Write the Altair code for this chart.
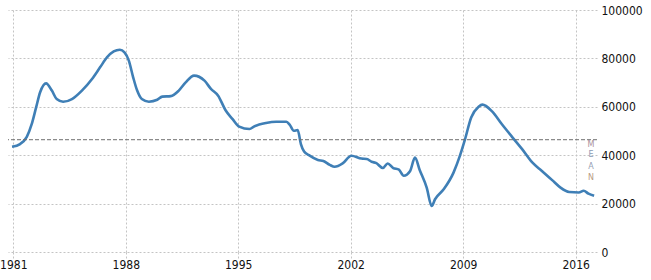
import altair as alt
import pandas as pd

years = [1980.92, 1981.42, 1981.84, 1982.15, 1982.42, 1982.67, 1983.04, 1983.4, 1983.7, 1984.1,
         1984.65, 1985.27, 1985.9, 1986.4, 1986.84, 1987.25, 1987.63, 1987.92, 1988.19, 1988.46,
         1988.71, 1989.0, 1989.44, 1989.96, 1990.27, 1990.8, 1991.3, 1991.73, 1992.25, 1992.9,
         1993.3, 1993.75, 1994.2, 1994.65, 1995.06, 1995.7, 1996.0, 1996.73, 1997.36, 1998.0,
         1998.2, 1998.46, 1998.7, 1998.9, 1999.1, 1999.4, 1999.96, 2000.3, 2000.7, 2001.0,
         2001.5, 2002.04, 2002.67, 2003.0, 2003.3, 2003.6, 2004.0, 2004.3, 2004.65, 2005.0,
         2005.3, 2005.7, 2006.0, 2006.3, 2006.73, 2007.04, 2007.25, 2007.8, 2008.4, 2008.8,
         2009.1, 2009.5, 2009.96, 2010.2, 2010.8, 2011.4, 2012.04, 2012.67, 2013.3, 2013.9,
         2014.54, 2015.06, 2015.6, 2016.2, 2016.5, 2016.8, 2017.15]
values = [43500, 44600, 47600, 52900, 59750, 66000, 69700, 66700, 63200, 62100,
          63200, 66700, 71500, 76300, 80500, 82900, 83600, 82500, 79100, 72200,
          66700, 63200, 62100, 62900, 64200, 64400, 66700, 70100, 72900, 70800,
          67400, 64600, 58700, 54900, 51800, 50800, 51900, 53300, 53800, 53800,
          52600, 50100, 50400, 44600, 41500, 40000, 38000, 37600, 36000, 35200,
          36600, 39800, 38600, 38400, 37300, 36700, 34700, 36600, 34700, 34000,
          31500, 33500, 39000, 33800, 26600, 19000, 21800, 26000, 32800, 39800,
          46200, 55600, 60000, 60900, 58100, 52900, 47600, 42500, 37000, 33500,
          29700, 26600, 24800, 24600, 25300, 24100, 23200]
tick_years = [1981, 1988, 1995, 2002, 2009, 2016]
y_ticks = [0, 20000, 40000, 60000, 80000, 100000]
mean_value = 46400
mean_letters = ["M", "E", "A", "N"]
mean_letter_values = [44200, 39900, 35000, 30600]
mean_letter_colors = ["#a8909c", "#8c9cb4", "#96a0b4", "#b89c84"]

FONT = "Liberation Sans Narrow, DejaVu Sans Condensed, Liberation Sans"
X_DOMAIN = [1980.67, 2017.33]
Y_DOMAIN = [0, 100000]

df = pd.DataFrame({"year": years, "value": values})

xs = alt.Scale(domain=X_DOMAIN, nice=False, zero=False)
ys = alt.Scale(domain=Y_DOMAIN, nice=False)

base = alt.Chart(df)

line = base.mark_line(color="#3f7fb6", strokeWidth=2.6, interpolate="monotone").encode(
    x=alt.X("year:Q", scale=xs, title=None,
            axis=alt.Axis(values=tick_years, format="d", grid=True, gridColor="#c4c4c4",
                          gridDash=[2, 2], gridWidth=1, domain=False, ticks=True, tickSize=6,
                          tickColor="#c4c4c4", tickDash=[2, 2], labelFont=FONT, labelFontSize=12,
                          labelColor="#111111", labelPadding=1, labelFlush=False)),
    y=alt.Y("value:Q", scale=ys, title=None,
            axis=alt.Axis(orient="right", values=y_ticks, format="d", grid=True,
                          gridColor="#c4c4c4", gridDash=[2, 2], gridWidth=1, domain=False,
                          ticks=False, labelFont=FONT, labelFontSize=12, labelColor="#111111",
                          labelPadding=4, labelFlush=False)),
)

mean_df = pd.DataFrame({"value": [mean_value]})
mean_rule = alt.Chart(mean_df).mark_rule(color="#6e6e6e", strokeDash=[4, 2], strokeWidth=1).encode(
    y=alt.Y("value:Q", scale=ys)
)

letters_df = pd.DataFrame({"t": mean_letters, "value": mean_letter_values, "c": mean_letter_colors})
letters = alt.Chart(letters_df).mark_text(font="DejaVu Sans", fontSize=8, align="center",
                                          baseline="middle").encode(
    x=alt.value(583),
    y=alt.Y("value:Q", scale=ys),
    text="t:N",
    color=alt.Color("c:N", scale=None),
)

chart = alt.layer(line, mean_rule, letters).properties(
    width=589, height=242,
    autosize=alt.AutoSizeParams(type="none"),
    padding={"left": 8, "top": 10, "right": 54, "bottom": 28},
    background="white",
).configure_view(stroke=None)

chart.save("out.html", embed_options={"renderer": "svg", "actions": False})
